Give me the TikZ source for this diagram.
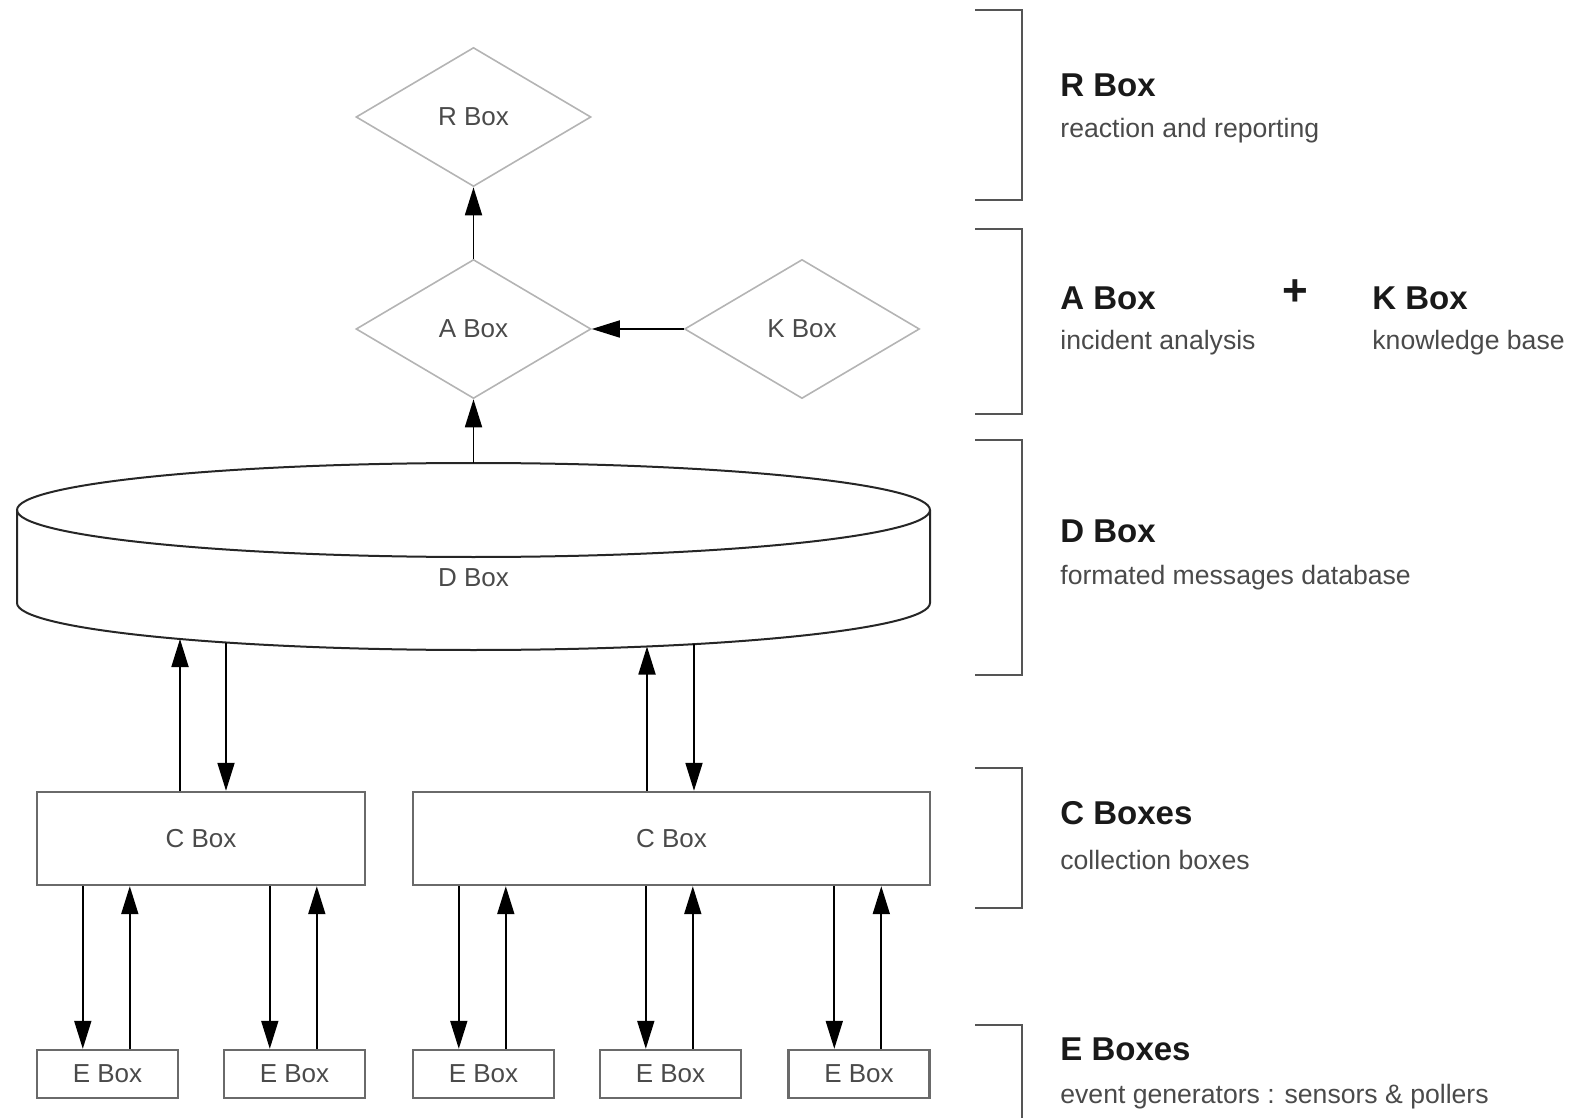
\documentclass[tikz,border=0pt]{standalone}
\usepackage{fontspec}
\setmainfont{Liberation Sans}
\usetikzlibrary{shapes.geometric,arrows.meta}
\definecolor{dgray}{HTML}{B4B4B4}
\definecolor{bgray}{HTML}{6A6A6A}
\definecolor{tgray}{HTML}{4A4A4A}
\definecolor{brk}{HTML}{555555}
\tikzset{
  dia/.style={diamond, draw=dgray, line width=0.8pt, minimum width=117.5pt, minimum height=69.5pt, inner sep=0pt, text=tgray, font=\fontsize{13}{15}\selectfont},
  cbox/.style={rectangle, draw=bgray, line width=1.2pt, minimum height=46.5pt, inner sep=0pt, text=tgray, font=\fontsize{13}{15}\selectfont},
  ebox/.style={rectangle, draw=bgray, line width=1.2pt, minimum width=70.5pt, minimum height=24pt, inner sep=0pt, text=tgray, font=\fontsize{13}{15}\selectfont},
  arr/.style={-{Triangle[length=14pt,width=8.5pt]}, line width=0.9pt, black},
  bracket/.style={draw=brk, line width=1pt},
  ttl/.style={anchor=west, inner sep=0pt, text=black!90, font=\fontsize{16.5}{20}\selectfont\bfseries},
  sub/.style={anchor=west, inner sep=0pt, text=tgray, font=\fontsize{13.3}{16}\selectfont},
  cyl/.style={draw=black!85, line width=1pt}
}
\begin{document}
\begin{tikzpicture}[x=0.5pt,y=-0.5pt]
\useasboundingbox (0,0) rectangle (1570,1118);
% diamonds
\node[dia] (R) at (473.5,117) {R Box};
\node[dia] (A) at (473.5,329) {A Box};
\node[dia] (K) at (802,329) {K Box};
% cylinder D
\draw[cyl, fill=white] (17,510) -- (17,603) arc[start angle=180, end angle=360, x radius=228.25pt, y radius=23.5pt] -- (930,510);
\draw[cyl] (473.5,510) ellipse[x radius=228.25pt, y radius=23.5pt];
\node[text=tgray, font=\fontsize{13}{15}\selectfont] (D) at (473.5,578) {D Box};
\coordinate (Dtop) at (473.5,463);
\coordinate (d1) at (180,639);
\coordinate (d2) at (226,642.5);
\coordinate (d3) at (647,646.5);
\coordinate (d4) at (694,644.2);
% C boxes
\node[cbox, minimum width=164pt] (cL) at (201,838.5) {C Box};
\node[cbox, minimum width=258.5pt] (cR) at (671.5,838.5) {C Box};
% E boxes
\node[ebox] (e1) at (107.5,1074) {E Box};
\node[ebox] (e2) at (294.5,1074) {E Box};
\node[ebox] (e3) at (483.5,1074) {E Box};
\node[ebox] (e4) at (670.5,1074) {E Box};
\node[ebox] (e5) at (859,1074) {E Box};
% connectors top
\draw[arr] (A.north) -- (R.south);
\draw[arr] (K.west) -- (A.east);
\draw[arr] (Dtop) -- (A.south);
% D <-> C
\draw[arr] (d1 |- cL.north) -- (d1);
\draw[arr] (d2) -- (d2 |- cL.north);
\draw[arr] (d3 |- cR.north) -- (d3);
\draw[arr] (d4) -- (d4 |- cR.north);
% C <-> E
\foreach \e/\c in {e1/cL,e2/cL,e3/cR,e4/cR,e5/cR}{
  \coordinate (\e d) at ([xshift=23.5pt]\e.north west);
  \coordinate (\e u) at ([xshift=47pt]\e.north west);
  \draw[arr] (\e d |- \c.south) -- (\e d);
  \draw[arr] (\e u) -- (\e u |- \c.south);
}
% brackets
\draw[bracket] (975,10) -- (1022,10) -- (1022,200) -- (975,200);
\draw[bracket] (975,229) -- (1022,229) -- (1022,414) -- (975,414);
\draw[bracket] (975,440) -- (1022,440) -- (1022,675) -- (975,675);
\draw[bracket] (975,768) -- (1022,768) -- (1022,908) -- (975,908);
\draw[bracket] (975,1025) -- (1022,1025) -- (1022,1118);
% legend texts
\node[ttl] (tR) at (1060,85) {R Box};
\node[sub] (sR) at (1060,131) {reaction and reporting};
\node[ttl] (tA) at (1060,298) {A Box};
\node[sub] (sA) at (1060,343) {incident analysis};
\node[text=black!90, inner sep=0pt, font=\fontsize{22}{24}\selectfont\bfseries] (plus) at (1295,293) {+};
\node[ttl] (tK) at (1372,298) {K Box};
\node[sub] (sK) at (1372,343) {knowledge base};
\node[ttl] (tD) at (1060,531) {D Box};
\node[sub] (sD) at (1060,578) {formated messages database};
\node[ttl] (tC) at (1060,813) {C Boxes};
\node[sub] (sC) at (1060,860) {collection boxes};
\node[ttl] (tE) at (1060,1049) {E Boxes};
\node[sub] (sE) at (1060,1097) {event generators : sensors \& pollers};
\end{tikzpicture}
\end{document}
